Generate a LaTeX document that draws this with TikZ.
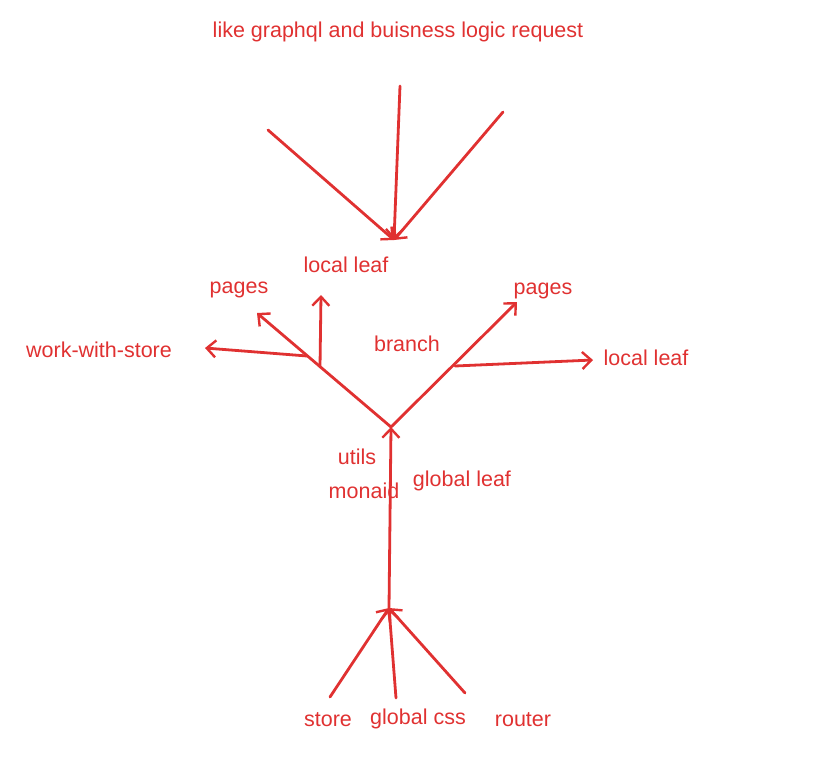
\documentclass[tikz,border=0pt]{standalone}
\usepackage{fontspec}
\setmainfont{Liberation Sans}
\usepackage{xcolor}
\usetikzlibrary{arrows.meta}
\definecolor{inkred}{HTML}{E03131}
\tikzset{
  lbl/.style={text=inkred, font=\fontsize{21.5}{24}\selectfont, inner sep=1pt},
  stem/.style={draw=inkred, line width=2.8pt, line cap=round},
  limb/.style={stem, -{Straight Barb[length=9pt,width=17pt,line width=2.4pt]}}
}
\begin{document}
\begin{tikzpicture}[x=1pt,y=-1pt]
\useasboundingbox (0,0) rectangle (817,777);
\node[lbl] (req) at (398,32) {like graphql and buisness logic request};
\node[lbl] (topleaf) at (346,265) {local leaf};
\node[lbl] (lpages) at (239,290) {pages};
\node[lbl] (store2) at (99,350) {work-with-store};
\node[lbl] (branch) at (407,344) {branch};
\node[lbl] (rpages) at (543,291) {pages};
\node[lbl] (rleaf) at (646,358) {local leaf};
\node[lbl] (utils) at (357,457) {utils};
\node[lbl] (monaid) at (364,491) {monaid};
\node[lbl] (gleaf) at (462,481) {global leaf};
\node[lbl] (store) at (328,720) {store};
\node[lbl] (gcss) at (418,719) {global css};
\node[lbl] (router) at (523,720) {router};

\coordinate (ra) at (268,130);
\coordinate (rb) at (400,86);
\coordinate (rc) at (503,112);
\coordinate (rin) at (394,240);
\coordinate (fork) at (391,427);
\coordinate (lknee) at (320,367);
\coordinate (lkneeb) at (307,356);
\coordinate (rknee) at (455,366);
\coordinate (root) at (389,608);
\coordinate (sa) at (330,697);
\coordinate (sb) at (396,698);
\coordinate (sc) at (465,693);

\draw[limb] (ra) -- (rin);
\draw[limb] (rb) -- (rin);
\draw[limb] (rc) -- (rin);

\draw[limb] (root) -- (fork);
\draw[limb] (sa) -- (root);
\draw[limb] (sb) -- (root);
\draw[limb] (sc) -- (root);

\draw[limb] (fork) -- (257,313) coordinate (lpt);
\draw[limb] (lknee) -- (321,295) coordinate (upt);
\draw[limb] (lkneeb) -- (205,348) coordinate (wpt);
\draw[limb] (fork) -- (517,302) coordinate (rpt);
\draw[limb] (rknee) -- (593,360) coordinate (rlt);
\end{tikzpicture}
\end{document}
